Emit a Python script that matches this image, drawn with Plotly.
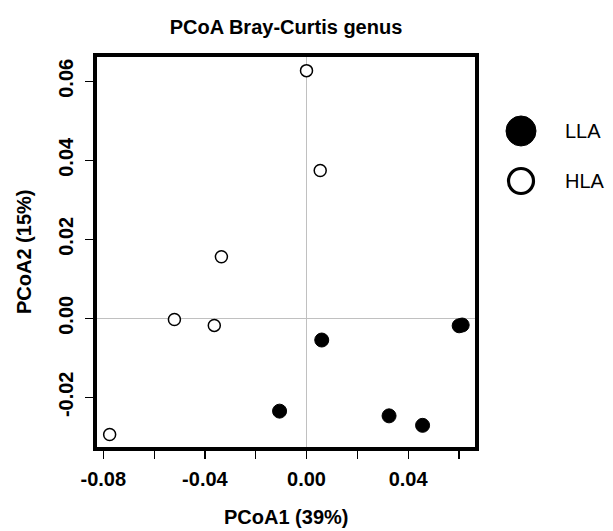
import plotly.graph_objects as go

# --- data ---
groups = ["LLA", "HLA"]
lla_x = [0.0060, 0.0601, 0.0613, -0.0106, 0.0325, 0.0457]
lla_y = [-0.0055, -0.0019, -0.0017, -0.0235, -0.0247, -0.0271]
hla_x = [0.0000, 0.0054, -0.0335, -0.0520, -0.0363, -0.0775]
hla_y = [0.0627, 0.0374, 0.0156, -0.0003, -0.0018, -0.0294]

x_tickvals = [-0.08, -0.06, -0.04, -0.02, 0.00, 0.02, 0.04, 0.06]
x_ticktext = ["-0.08", "", "-0.04", "", "0.00", "", "0.04", ""]
y_tickvals = [-0.02, 0.00, 0.02, 0.04, 0.06]
y_ticktext = ["-0.02", "0.00", "0.02", "0.04", "0.06"]

title = "PCoA Bray-Curtis genus"
x_title = "PCoA1 (39%)"
y_title = "PCoA2 (15%)"

FONT = "Liberation Sans, Arial, sans-serif"

fig = go.Figure()
fig.add_trace(go.Scatter(
    x=lla_x, y=lla_y, mode="markers", name=groups[0],
    marker=dict(symbol="circle", size=14, color="black",
                line=dict(color="black", width=1)),
    showlegend=False, hoverinfo="skip"))
fig.add_trace(go.Scatter(
    x=hla_x, y=hla_y, mode="markers", name=groups[1],
    marker=dict(symbol="circle", size=12, color="white",
                line=dict(color="black", width=1.5)),
    showlegend=False, hoverinfo="skip"))

axis_common = dict(
    showgrid=False, zeroline=True, zerolinecolor="#c0c0c0", zerolinewidth=1,
    showline=True, linecolor="black", linewidth=4, mirror=True,
    ticks="outside", ticklen=8, tickwidth=1.2, tickcolor="black",
    tickfont=dict(family=FONT, size=20, color="black", weight="bold"),
)

fig.update_xaxes(range=[-0.08248, 0.06634], tickmode="array",
                 tickvals=x_tickvals, ticktext=x_ticktext,
                 ticklabelstandoff=3, **axis_common)
fig.update_yaxes(range=[-0.03258, 0.06615], tickmode="array",
                 tickvals=y_tickvals, ticktext=y_ticktext,
                 tickangle=-90, ticklabelstandoff=4, **axis_common)

# legend drawn manually (large symbols)
leg_x = 1.1217
leg_ys = [0.8103, 0.682]
fig.add_shape(type="circle", xref="paper", yref="paper",
              xsizemode="pixel", ysizemode="pixel",
              xanchor=leg_x, yanchor=leg_ys[0], x0=-15, x1=15, y0=-15, y1=15,
              fillcolor="black", line=dict(color="black", width=1))
fig.add_shape(type="circle", xref="paper", yref="paper",
              xsizemode="pixel", ysizemode="pixel",
              xanchor=leg_x, yanchor=leg_ys[1], x0=-12.5, x1=12.5, y0=-12.5, y1=12.5,
              fillcolor="white", line=dict(color="black", width=3.2))
for g, yy in zip(groups, leg_ys):
    fig.add_annotation(text=g, xref="paper", yref="paper", x=1.2328, y=yy,
                       xanchor="left", yanchor="middle", showarrow=False,
                       font=dict(family=FONT, size=20, color="black"))

fig.add_annotation(text=x_title, xref="paper", yref="paper", x=0.5, y=-0.1795,
                   xanchor="center", yanchor="middle", showarrow=False,
                   font=dict(family=FONT, size=20, color="black", weight="bold"))
fig.add_annotation(text=y_title, xref="paper", yref="paper", x=-0.1931, y=0.5,
                   xanchor="center", yanchor="middle", showarrow=False, textangle=-90,
                   font=dict(family=FONT, size=20, color="black", weight="bold"))

fig.update_layout(
    width=613, height=531,
    margin=dict(l=97, r=138, t=57, b=84),
    paper_bgcolor="white", plot_bgcolor="white",
    hovermode=False,
    title=dict(text=title, x=0.5, xref="paper", y=1 - 27 / 531, yref="container",
               xanchor="center", yanchor="middle",
               font=dict(family=FONT, size=20, color="black", weight="bold")),
)

fig.write_html("out.html",
               config={"displayModeBar": False, "staticPlot": True},
               post_script="document.body.style.margin='0';document.body.style.overflow='hidden';")
